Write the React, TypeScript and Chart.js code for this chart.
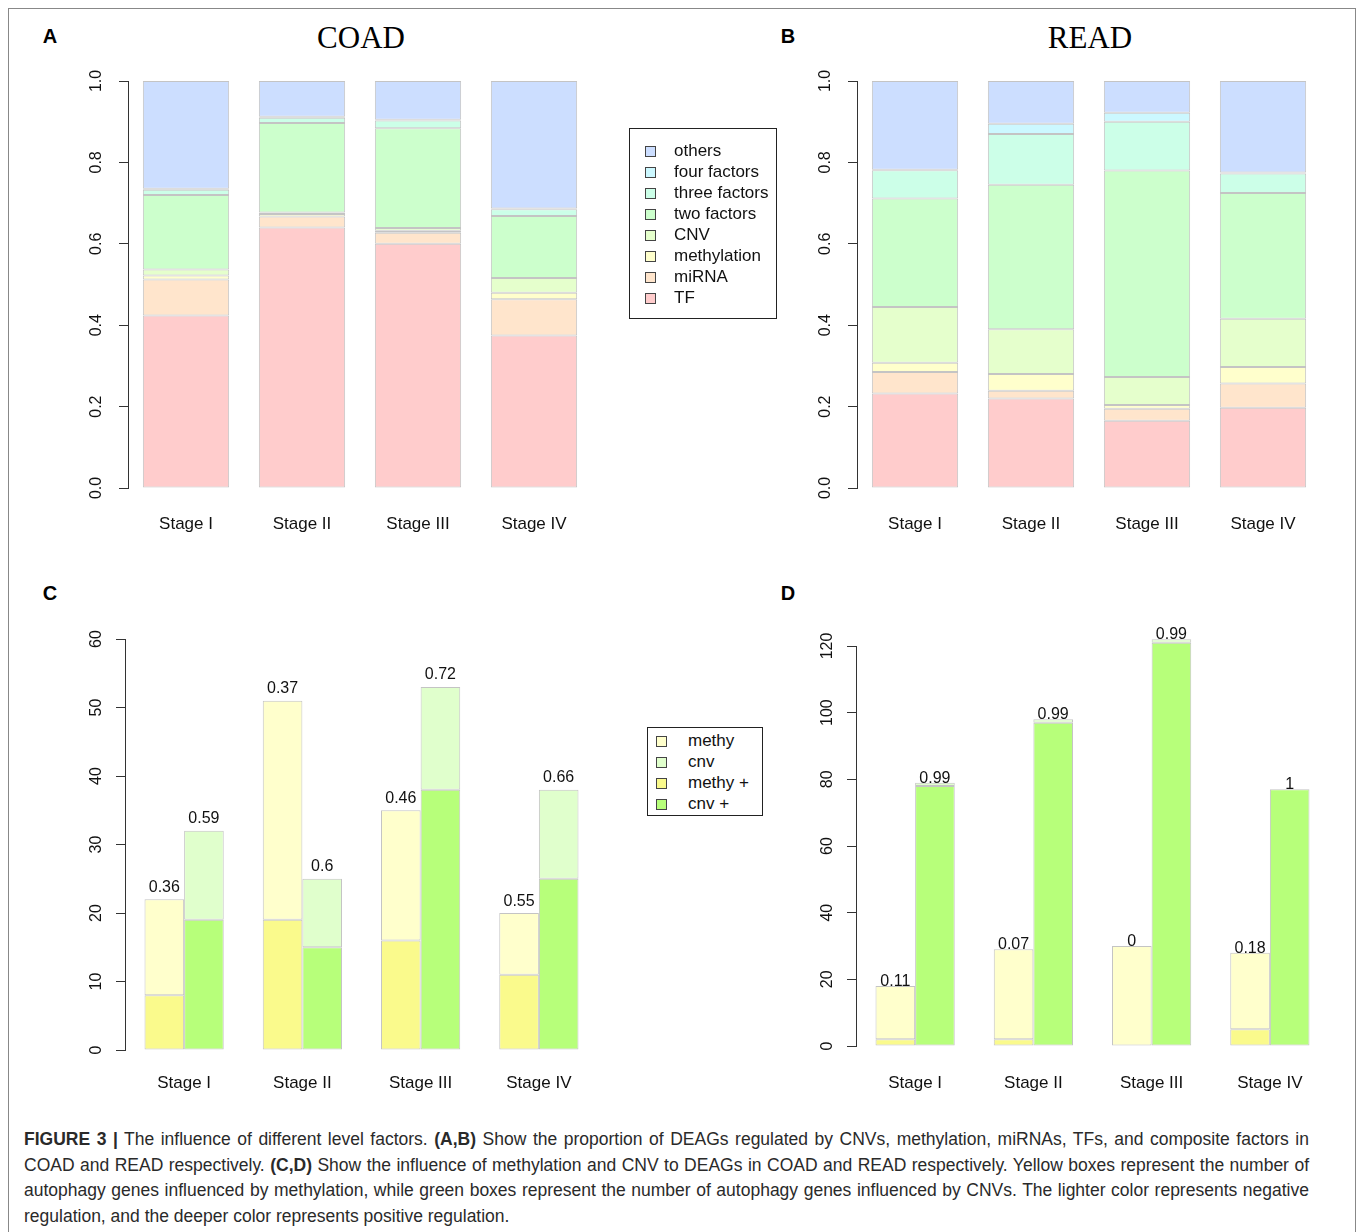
import React, { useEffect, useRef } from "react";
import { Chart, registerables } from "chart.js";

Chart.register(...registerables);

// ---------------- DATA ----------------
const stages = ["Stage I", "Stage II", "Stage III", "Stage IV"];

// stacking order bottom -> top
const factorLabels = ["TF", "miRNA", "methylation", "CNV", "two factors", "three factors", "four factors", "others"];
const factorColors = ["#FFCCCC", "#FFE5CC", "#FFFFCC", "#E5FFCC", "#CCFFCC", "#CCFFE8", "#CCF8FF", "#CCDEFF"];

// COAD proportions (segment heights) per stage
const coadTF = [0.424, 0.640, 0.600, 0.375];
const coadMiRNA = [0.088, 0.027, 0.027, 0.089];
const coadMethylation = [0.010, 0.006, 0.005, 0.016];
const coadCNV = [0.015, 0.004, 0.007, 0.036];
const coadTwo = [0.183, 0.220, 0.245, 0.152];
const coadThree = [0.013, 0.013, 0.019, 0.017];
const coadFour = [0.002, 0.002, 0.002, 0.002];
const coadOthers = [0.265, 0.088, 0.095, 0.313];

// READ proportions (segment heights) per stage
const readTF = [0.232, 0.220, 0.165, 0.197];
const readMiRNA = [0.053, 0.019, 0.030, 0.060];
const readMethylation = [0.023, 0.041, 0.009, 0.040];
const readCNV = [0.137, 0.110, 0.069, 0.119];
const readTwo = [0.266, 0.355, 0.507, 0.309];
const readThree = [0.070, 0.125, 0.120, 0.048];
const readFour = [0.001, 0.025, 0.022, 0.002];
const readOthers = [0.218, 0.105, 0.078, 0.225];

const propTickValues = [0, 0.2, 0.4, 0.6, 0.8, 1.0];
const propTickLabels = ["0.0", "0.2", "0.4", "0.6", "0.8", "1.0"];

// methylation / CNV counts
const regLabels = ["methy", "cnv", "methy +", "cnv +"];
const regColors = ["#FFFFCC", "#E0FFCC", "#FAFA8C", "#B7FF7A"];

const coadMethyPlus = [8, 19, 16, 11];
const coadMethyMinus = [14, 32, 19, 9];
const coadCnvPlus = [19, 15, 38, 25];
const coadCnvMinus = [13, 10, 15, 13];
const coadMethyRatio = ["0.36", "0.37", "0.46", "0.55"];
const coadCnvRatio = ["0.59", "0.6", "0.72", "0.66"];
const coadTickValues = [0, 10, 20, 30, 40, 50, 60];

const readMethyPlus = [2, 2, 0, 5];
const readMethyMinus = [16, 27, 30, 23];
const readCnvPlus = [78, 97, 121, 77];
const readCnvMinus = [1, 1, 1, 0];
const readMethyRatio = ["0.11", "0.07", "0", "0.18"];
const readCnvRatio = ["0.99", "0.99", "0.99", "1"];
const readTickValues = [0, 20, 40, 60, 80, 100, 120];

// ---------------- STYLE ----------------
const SANS = '"Liberation Sans", Arial, Helvetica, sans-serif';
const SERIF = '"Liberation Serif", "Times New Roman", serif';
const barBorder = "#C4C4C4";
const axisColor = "#333333";
const textColor = "#111111";

Chart.defaults.font.family = SANS;

const ratioLabelPlugin = {
  id: "ratioLabels",
  afterDatasetsDraw(chart: any, _args: any, opts: any) {
    const ctx = chart.ctx;
    ctx.save();
    ctx.font = `16px ${SANS}`;
    ctx.fillStyle = textColor;
    ctx.textAlign = "center";
    ctx.textBaseline = "alphabetic";
    for (const g of opts.groups || []) {
      const meta = chart.getDatasetMeta(g.datasetIndex);
      meta.data.forEach((el: any, i: number) => {
        ctx.fillText(g.labels[i], el.x, el.y - opts.gap);
      });
    }
    ctx.restore();
  },
};

function yScale(max: number, tickValues: number[], tickLabels: string[] | null, axisWidth: number, pad: number) {
  return {
    type: "linear",
    min: 0,
    max,
    stacked: true,
    afterBuildTicks: (s: any) => {
      s.ticks = tickValues.map((v) => ({ value: v }));
    },
    afterFit: (s: any) => {
      s.width = axisWidth;
    },
    grid: { display: true, drawOnChartArea: false, drawTicks: true, tickLength: 9, color: axisColor, lineWidth: 1 },
    border: { display: true, color: axisColor, width: 1 },
    ticks: {
      minRotation: 90,
      maxRotation: 90,
      crossAlign: "center",
      padding: pad,
      color: textColor,
      font: { size: 16, family: SANS },
      callback: (v: any, i: number) => (tickLabels ? tickLabels[i] : String(v)),
    },
  };
}

function xScale(height: number, pad: number) {
  return {
    type: "category",
    stacked: true,
    afterFit: (s: any) => {
      s.height = height;
    },
    grid: { display: false, drawTicks: false },
    border: { display: false },
    ticks: { padding: pad, color: textColor, font: { size: 17, family: SANS }, maxRotation: 0, autoSkip: false },
  };
}

function proportionConfig(series: number[][], layoutPad: any, axisWidth: number, xHeight: number) {
  return {
    type: "bar",
    data: {
      labels: stages,
      datasets: factorLabels.map((label, k) => ({
        label,
        data: series[k],
        backgroundColor: factorColors[k],
        borderColor: barBorder,
        borderWidth: 1,
        borderSkipped: false,
        stack: "all",
        categoryPercentage: 0.744,
        barPercentage: 1,
        clip: false,
      })),
    },
    options: {
      responsive: false,
      animation: false,
      devicePixelRatio: 1,
      layout: { padding: layoutPad },
      plugins: { legend: { display: false }, tooltip: { enabled: false } },
      scales: {
        x: xScale(xHeight, 26),
        y: yScale(1, propTickValues, propTickLabels, axisWidth, 11),
      },
    },
  };
}

function regulationConfig(
  methyPlus: number[], methyMinus: number[], cnvPlus: number[], cnvMinus: number[],
  methyRatio: string[], cnvRatio: string[], max: number, ticks: number[],
  layoutPad: any, axisWidth: number, xHeight: number, xPad: number, yPad: number, gap: number
) {
  const mk = (label: string, data: number[], color: string, stack: string) => ({
    label,
    data,
    backgroundColor: color,
    borderColor: barBorder,
    borderWidth: 1,
    borderSkipped: false,
    stack,
    categoryPercentage: 0.67,
    barPercentage: 1,
    clip: false,
  });
  return {
    type: "bar",
    data: {
      labels: stages,
      datasets: [
        mk(regLabels[2], methyPlus, regColors[2], "methy"),
        mk(regLabels[0], methyMinus, regColors[0], "methy"),
        mk(regLabels[3], cnvPlus, regColors[3], "cnv"),
        mk(regLabels[1], cnvMinus, regColors[1], "cnv"),
      ],
    },
    options: {
      responsive: false,
      animation: false,
      devicePixelRatio: 1,
      layout: { padding: layoutPad },
      plugins: {
        legend: { display: false },
        tooltip: { enabled: false },
        ratioLabels: {
          gap,
          groups: [
            { datasetIndex: 1, labels: methyRatio },
            { datasetIndex: 3, labels: cnvRatio },
          ],
        },
      },
      scales: {
        x: xScale(xHeight, xPad),
        y: yScale(max, ticks, null, axisWidth, yPad),
      },
    },
    plugins: [ratioLabelPlugin],
  };
}

function BarPanel(props: { left: number; top: number; width: number; height: number; config: () => any }) {
  const ref = useRef<HTMLCanvasElement>(null);
  useEffect(() => {
    const chart = new Chart(ref.current as HTMLCanvasElement, props.config());
    return () => chart.destroy();
  }, []);
  return (
    <canvas
      ref={ref}
      width={props.width}
      height={props.height}
      style={{ position: "absolute", left: props.left, top: props.top, width: props.width, height: props.height }}
    />
  );
}

function Legend(props: {
  left: number; top: number; width: number; height: number;
  labels: string[]; colors: string[]; firstY: number; step: number; boxX: number; textX: number;
}) {
  return (
    <div
      style={{
        position: "absolute",
        left: props.left,
        top: props.top,
        width: props.width,
        height: props.height,
        border: "1px solid #222",
        boxSizing: "border-box",
      }}
    >
      {props.labels.map((lab, i) => {
        const cy = props.firstY + props.step * i - props.top;
        return (
          <React.Fragment key={lab}>
            <div
              style={{
                position: "absolute",
                left: props.boxX - props.left - 1,
                top: cy - 6,
                width: 11,
                height: 11,
                boxSizing: "border-box",
                border: "1px solid #444",
                background: props.colors[i],
              }}
            />
            <div
              style={{
                position: "absolute",
                left: props.textX - props.left - 1,
                top: cy - 11,
                height: 20,
                lineHeight: "20px",
                fontFamily: SANS,
                fontSize: 17,
                color: textColor,
                whiteSpace: "nowrap",
              }}
            >
              {lab}
            </div>
          </React.Fragment>
        );
      })}
    </div>
  );
}

const captionLines: React.ReactNode[] = [
  <>
    <b>FIGURE 3 |</b> The influence of different level factors. <b>(A,B)</b> Show the proportion of DEAGs regulated by
    CNVs, methylation, miRNAs, TFs, and composite factors in
  </>,
  <>
    COAD and READ respectively. <b>(C,D)</b> Show the influence of methylation and CNV to DEAGs in COAD and READ
    respectively. Yellow boxes represent the number of
  </>,
  <>
    autophagy genes influenced by methylation, while green boxes represent the number of autophagy genes influenced by
    CNVs. The lighter color represents negative
  </>,
  <>regulation, and the deeper color represents positive regulation.</>,
];
const captionY = [1139.5, 1165, 1190.5, 1216];
const captionJustified = [true, true, true, false];

export default function App() {
  const coadSeries = [coadTF, coadMiRNA, coadMethylation, coadCNV, coadTwo, coadThree, coadFour, coadOthers];
  const readSeries = [readTF, readMiRNA, readMethylation, readCNV, readTwo, readThree, readFour, readOthers];
  const legendOrder = [7, 6, 5, 4, 3, 2, 1, 0];

  const letter = (t: string, x: number, y: number) => (
    <div
      style={{
        position: "absolute",
        left: x - 15,
        top: y - 12,
        width: 30,
        textAlign: "center",
        lineHeight: "24px",
        fontFamily: SANS,
        fontWeight: "bold",
        fontSize: 20,
        color: "#000",
      }}
    >
      {t}
    </div>
  );
  const title = (t: string, x: number, y: number) => (
    <div
      style={{
        position: "absolute",
        left: x - 150,
        top: y - 18,
        width: 300,
        textAlign: "center",
        lineHeight: "36px",
        fontFamily: SERIF,
        fontSize: 31,
        color: "#000",
      }}
    >
      {t}
    </div>
  );

  return (
    <div style={{ position: "absolute", left: 0, top: 0, width: 1358, height: 1232, overflow: "hidden", background: "#fff" }}>
      <div
        style={{
          position: "absolute",
          left: 8,
          top: 8,
          width: 1348,
          height: 1300,
          border: "1px solid #888",
          boxSizing: "border-box",
        }}
      />
      {letter("A", 50, 36)}
      {letter("B", 788, 36)}
      {letter("C", 50, 593)}
      {letter("D", 788, 593)}
      {title("COAD", 361, 38)}
      {title("READ", 1090, 38)}

      <BarPanel
        left={40}
        top={40}
        width={580}
        height={520}
        config={() => proportionConfig(coadSeries, { top: 41, right: 28, bottom: 20, left: 0 }, 88, 52)}
      />
      <BarPanel
        left={770}
        top={40}
        width={580}
        height={520}
        config={() => proportionConfig(readSeries, { top: 41, right: 29, bottom: 20, left: 0 }, 87, 52)}
      />
      <BarPanel
        left={40}
        top={600}
        width={580}
        height={520}
        config={() =>
          regulationConfig(
            coadMethyPlus, coadMethyMinus, coadCnvPlus, coadCnvMinus, coadMethyRatio, coadCnvRatio, 60, coadTickValues,
            { top: 39, right: 22, bottom: 20, left: 0 }, 85, 50, 23, 11, 7.5
          )
        }
      />
      <BarPanel
        left={770}
        top={600}
        width={580}
        height={520}
        config={() =>
          regulationConfig(
            readMethyPlus, readMethyMinus, readCnvPlus, readCnvMinus, readMethyRatio, readCnvRatio, 120, readTickValues,
            { top: 46, right: 21, bottom: 20, left: 0 }, 86, 54, 27, 6, 0
          )
        }
      />

      <Legend
        left={629}
        top={128}
        width={148}
        height={191}
        labels={legendOrder.map((k) => factorLabels[k])}
        colors={legendOrder.map((k) => factorColors[k])}
        firstY={150.5}
        step={21}
        boxX={645}
        textX={674}
      />
      <Legend
        left={647}
        top={727}
        width={116}
        height={89}
        labels={regLabels}
        colors={regColors}
        firstY={741}
        step={21}
        boxX={656}
        textX={688}
      />

      {captionLines.map((line, i) => (
        <div
          key={i}
          style={{
            position: "absolute",
            left: 24,
            top: captionY[i] - 12.5,
            width: captionJustified[i] ? 1285 : undefined,
            lineHeight: "25px",
            fontFamily: SANS,
            fontSize: 17.5,
            color: "#2a2a2a",
            whiteSpace: captionJustified[i] ? "normal" : "nowrap",
            textAlign: captionJustified[i] ? "justify" : "left",
            textAlignLast: captionJustified[i] ? "justify" : "auto",
          }}
        >
          {line}
        </div>
      ))}
    </div>
  );
}
